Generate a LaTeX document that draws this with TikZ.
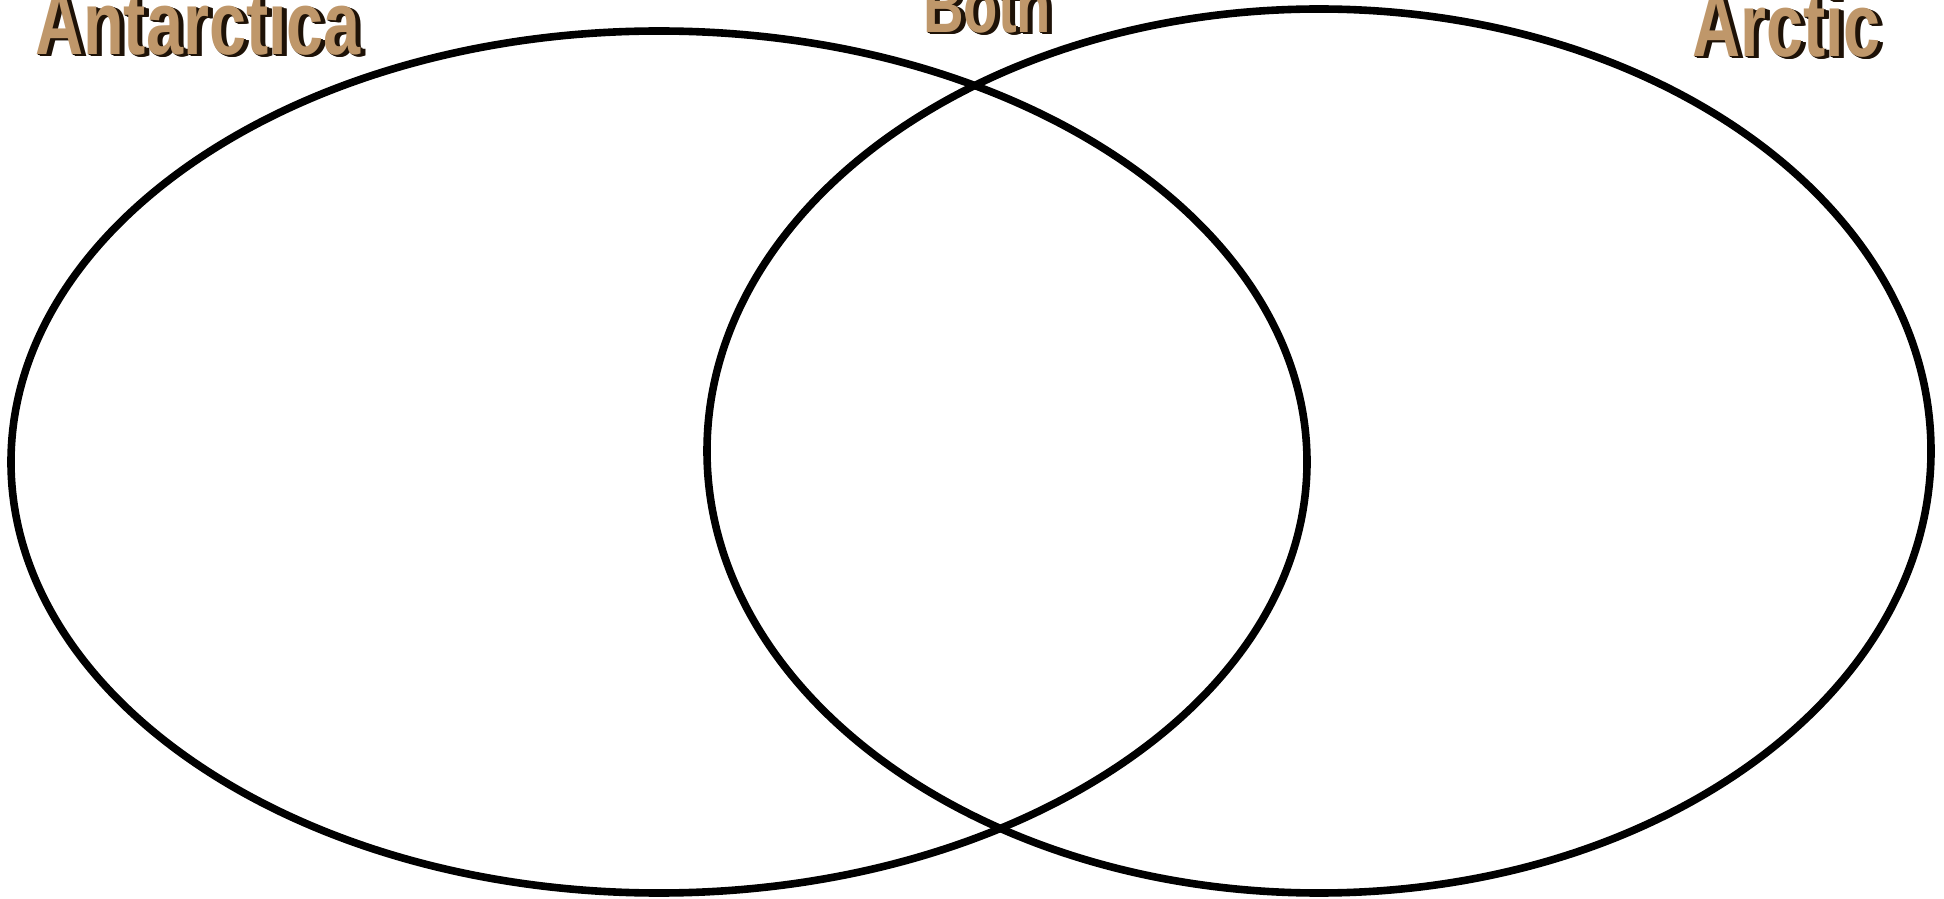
\documentclass[tikz,border=0pt]{standalone}
\usepackage{fontspec}
\newfontfamily\labfont{Liberation Sans}
\usetikzlibrary{shapes.geometric}
\definecolor{labtan}{HTML}{BF976A}
\definecolor{labshadow}{HTML}{1E1207}
\begin{document}
\begin{tikzpicture}[x=1pt,y=1pt,
  venn/.style={ellipse, draw=black, line width=7.6pt, inner sep=0pt},
  lab/.style={anchor=base west, inner sep=0pt, text=labtan, font=\labfont\bfseries\fontsize{90}{90}\selectfont},
  labsmall/.style={lab, font=\labfont\bfseries\fontsize{76}{76}\selectfont},
  shade/.style={text=labshadow}]
\useasboundingbox (0,0) rectangle (1944,898);
\node[venn, minimum width=1296pt, minimum height=862pt] (ant) at (659,436) {};
\node[venn, minimum width=1224pt, minimum height=884pt] (arc) at (1319,447) {};
% shadows (extrusion)
\foreach \d in {1,2,3,4,5}{
  \node[lab, shade] (antS\d) at ({35+\d},{843-0.4*\d}) {\scalebox{0.74}[1]{Antarctica}};
  \node[labsmall, shade] (bothS\d) at ({923+\d},{865-0.4*\d}) {\scalebox{0.74}[1]{Both}};
  \node[lab, shade] (arcS\d) at ({1692+\d},{841-0.4*\d}) {\scalebox{0.74}[1]{Arctic}};
}
\node[lab] (antL) at (35,843) {\scalebox{0.74}[1]{Antarctica}};
\node[labsmall] (bothL) at (923,865) {\scalebox{0.74}[1]{Both}};
\node[lab] (arcL) at (1692,841) {\scalebox{0.74}[1]{Arctic}};
\end{tikzpicture}
\end{document}
